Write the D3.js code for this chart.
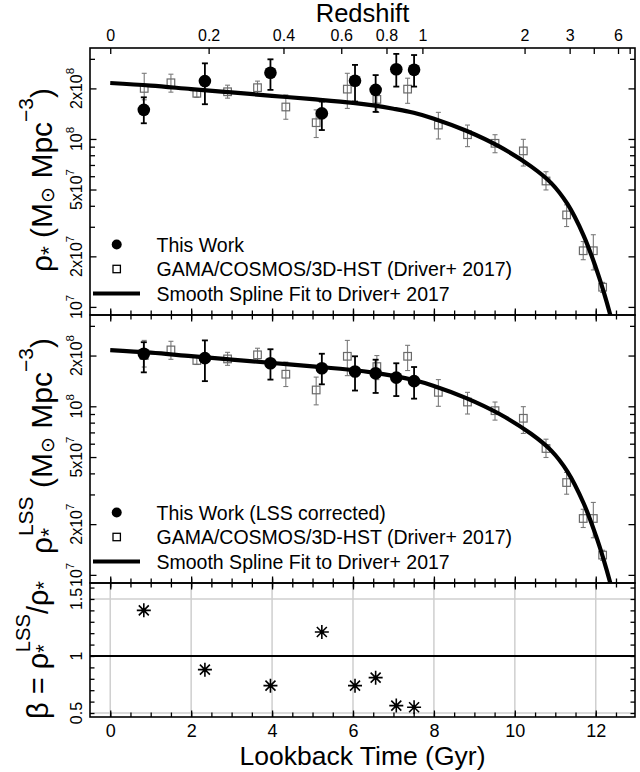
<!DOCTYPE html>
<html><head><meta charset="utf-8">
<script src="https://cdn.jsdelivr.net/npm/d3@7"></script>
<style>
body{margin:0;background:#fff}
svg{display:block}
text{font-family:"Liberation Sans",Arial,Helvetica,sans-serif;fill:#000}
</style>
</head><body>
<svg id="c" width="640" height="772"></svg>
<script>
// ---------------- DATA ----------------
// This Work (lookback time, Gyr)
const lookbackThisWork = [0.83, 2.34, 3.96, 5.23, 6.05, 6.56, 7.07, 7.51];
const rhoThisWork   = [1.49e8, 2.21e8, 2.48e8, 1.42e8, 2.22e8, 1.96e8, 2.60e8, 2.58e8];
const rhoThisWorkLo = [1.24e8, 1.61e8, 1.96e8, 1.13e8, 1.67e8, 1.45e8, 2.05e8, 2.05e8];
const rhoThisWorkHi = [1.77e8, 2.82e8, 2.98e8, 1.67e8, 2.76e8, 2.40e8, 3.21e8, 3.16e8];
// This Work, LSS corrected
const rhoLSS   = [2.05e8, 1.93e8, 1.80e8, 1.68e8, 1.61e8, 1.57e8, 1.48e8, 1.41e8];
const rhoLSSLo = [1.59e8, 1.41e8, 1.44e8, 1.35e8, 1.24e8, 1.20e8, 1.15e8, 1.11e8];
const rhoLSSHi = [2.40e8, 2.46e8, 2.18e8, 2.05e8, 1.98e8, 1.89e8, 1.80e8, 1.71e8];
// beta = rho_LSS / rho
const betaRatio = [1.40, 0.88, 0.74, 1.21, 0.74, 0.81, 0.565, 0.55];
// GAMA/COSMOS/3D-HST (Driver+ 2017)
const lookbackDriver = [0.84, 1.50, 2.14, 2.90, 3.64, 4.34, 5.09, 5.86, 6.59, 7.35, 8.11, 8.83, 9.51, 10.21, 10.77, 11.28, 11.69, 11.94, 12.17];
const rhoDriver   = [2.00e8, 2.16e8, 1.87e8, 1.91e8, 2.02e8, 1.55e8, 1.25e8, 1.98e8, 1.72e8, 1.98e8, 1.21e8, 1.06e8, 9.42e7, 8.49e7, 5.62e7, 3.53e7, 2.16e7, 2.16e7, 1.31e7];
const rhoDriverLo = [1.71e8, 1.90e8, 1.77e8, 1.75e8, 1.85e8, 1.31e8, 1.02e8, 1.52e8, 1.44e8, 1.63e8, 1.00e8, 9.00e7, 8.28e7, 6.90e7, 4.97e7, 3.01e7, 1.91e7, 1.66e7, 1.22e7];
const rhoDriverHi = [2.46e8, 2.43e8, 1.96e8, 2.09e8, 2.21e8, 1.83e8, 1.49e8, 2.46e8, 2.00e8, 2.30e8, 1.44e8, 1.21e8, 1.06e8, 9.95e7, 6.38e7, 4.05e7, 2.45e7, 2.69e7, 1.40e7];
// Smooth spline fit to Driver+ 2017
const splineLookback = [0, 1, 2, 3, 4, 5, 6, 6.5, 7, 7.5, 8, 8.8, 9.6, 10.4, 10.9, 11.3, 11.7, 12.0, 12.2, 12.4, 12.6];
const splineRho = [2.153e8, 2.080e8, 1.982e8, 1.892e8, 1.807e8, 1.726e8, 1.641e8, 1.585e8, 1.514e8, 1.432e8, 1.321e8, 1.119e8, 9.06e7, 6.87e7, 5.46e7, 4.10e7, 2.66e7, 1.72e7, 1.22e7, 8.24e6, 5.32e6];
// axes
const lookbackTicks = [0, 2, 4, 6, 8, 10, 12];
const redshiftTicks = [0, 0.2, 0.4, 0.6, 0.8, 1, 2, 3, 4, 6, 8];
const redshiftLabels = ["0", "0.2", "0.4", "0.6", "0.8", "1", "2", "3", "", "6", ""];
const rhoTickValues = [1e7, 2e7, 5e7, 1e8, 2e8];
const rhoTickMant = ["", "2x", "5x", "", "2x"];
const rhoTickExp = ["7", "7", "7", "8", "8"];
const rhoMinorTicks = [3e7, 4e7, 6e7, 7e7, 8e7, 9e7, 3e8];
const betaTickValues = [0.5, 1, 1.5];
const betaTickLabels = ["0.5", "1", "1.5"];

// ---------------- LAYOUT ----------------
const svg = d3.select("#c");
const L = 90, R = 635, T1 = 48, B1 = 315, B2 = 583, B3 = 717;
const x = d3.scaleLinear().domain([-0.5, 12.97]).range([L, R]);
const yDom = [8.95e6, 3.48e8];
const y1 = d3.scaleLog().domain(yDom).range([B1, T1]);
const y2 = d3.scaleLog().domain(yDom).range([B2, B1]);
const y3 = d3.scaleLinear().domain([0.465, 1.64]).range([B3, B2]);

// lookback time (Gyr) for flat LCDM H0=70, Om=0.3
function lookback(z) {
  const Om = 0.3, OL = 0.7, tH = 977.8 / 70;
  const f = zz => 1 / ((1 + zz) * Math.sqrt(Om * Math.pow(1 + zz, 3) + OL));
  const n = 400, h = z / n; let s = 0;
  for (let i = 0; i < n; i++) { const a = i * h; s += (f(a) + 4 * f(a + h / 2) + f(a + h)) * h / 6; }
  return tH * s;
}

const FONT = '"Liberation Sans",Arial,Helvetica,sans-serif';
function rich(textSel, parts, fs) {
  let cur = 0;
  parts.forEach(p => {
    const k = p.k || 1, s = (p.s || 0) * fs;
    const ts = textSel.append("tspan").text(p.t).attr("dy", s - cur);
    if (k !== 1) ts.attr("font-size", k * fs);
    if (p.dx) ts.attr("dx", p.dx);
    cur = s;
  });
}

// clip paths
const defs = svg.append("defs");
[[T1, B1, "c1"], [B1, B2, "c2"], [B2, B3, "c3"]].forEach(([t, b, id]) => {
  defs.append("clipPath").attr("id", id).append("rect")
    .attr("x", L).attr("y", t).attr("width", R - L).attr("height", b - t);
});

function styleAxis(g, w) {
  g.select(".domain").remove();
  g.selectAll(".tick line").attr("stroke", "#000").attr("stroke-width", w || 1.3);
}

// ---------------- RHO PANELS ----------------
function rhoPanel(y, top, bottom, clipId, circ, circLo, circHi, legendText) {
  const g = svg.append("g");
  // Driver squares + error bars
  const gd = g.append("g").attr("clip-path", `url(#${clipId})`);
  lookbackDriver.forEach((t, i) => {
    const cx = x(t);
    gd.append("line").attr("x1", cx).attr("x2", cx).attr("y1", y(rhoDriverLo[i])).attr("y2", y(rhoDriverHi[i]))
      .attr("stroke", "#7a7a7a").attr("stroke-width", 1.1);
    [rhoDriverLo[i], rhoDriverHi[i]].forEach(v => gd.append("line")
      .attr("x1", cx - 2.5).attr("x2", cx + 2.5).attr("y1", y(v)).attr("y2", y(v))
      .attr("stroke", "#7a7a7a").attr("stroke-width", 1.1));
    gd.append("rect").attr("x", cx - 3.8).attr("y", y(rhoDriver[i]) - 3.8).attr("width", 7.6).attr("height", 7.6)
      .attr("fill", "none").attr("stroke", "#6a6a6a").attr("stroke-width", 1.2);
  });
  // spline
  const line = d3.line().x((d, i) => x(splineLookback[i])).y(d => y(d)).curve(d3.curveCatmullRom.alpha(0.5));
  g.append("path").attr("clip-path", `url(#${clipId})`).attr("d", line(splineRho))
    .attr("fill", "none").attr("stroke", "#000").attr("stroke-width", 4.2);
  // this work
  lookbackThisWork.forEach((t, i) => {
    const cx = x(t);
    g.append("line").attr("x1", cx).attr("x2", cx).attr("y1", y(circLo[i])).attr("y2", y(circHi[i]))
      .attr("stroke", "#000").attr("stroke-width", 1.8);
    [circLo[i], circHi[i]].forEach(v => g.append("line")
      .attr("x1", cx - 3).attr("x2", cx + 3).attr("y1", y(v)).attr("y2", y(v))
      .attr("stroke", "#000").attr("stroke-width", 1.8));
    g.append("circle").attr("cx", cx).attr("cy", y(circ[i])).attr("r", 6.3).attr("fill", "#000");
  });
  // ticks
  const ax1 = g.append("g").attr("transform", `translate(${L},0)`)
    .call(d3.axisLeft(y).tickValues(rhoTickValues).tickSize(-6.5).tickFormat(""));
  styleAxis(ax1);
  const ax2 = g.append("g").attr("transform", `translate(${L},0)`)
    .call(d3.axisLeft(y).tickValues(rhoMinorTicks).tickSize(-5).tickFormat(""));
  styleAxis(ax2);
  const ax3 = g.append("g").attr("transform", `translate(${R},0)`)
    .call(d3.axisRight(y).tickValues(rhoTickValues).tickSize(-6.5).tickFormat(""));
  styleAxis(ax3);
  const ax4 = g.append("g").attr("transform", `translate(${R},0)`)
    .call(d3.axisRight(y).tickValues(rhoMinorTicks).tickSize(-5).tickFormat(""));
  styleAxis(ax4);
  // tick labels (rotated)
  rhoTickValues.forEach((v, i) => {
    const t = g.append("text").attr("transform", `translate(82,${y(v)}) rotate(-90)`)
      .attr("text-anchor", "middle").attr("font-size", 16);
    rich(t, [{ t: rhoTickMant[i] + "10" }, { t: rhoTickExp[i], k: 0.72, s: -0.48 }], 16);
  });
  // legend
  const lg = g.append("g").attr("font-size", 19.5);
  const r1 = bottom - 70.5, r2 = bottom - 46, r3 = bottom - 21.5;
  lg.append("circle").attr("cx", 116.7).attr("cy", r1).attr("r", 5).attr("fill", "#000");
  lg.append("rect").attr("x", 113).attr("y", r2 - 3.7).attr("width", 7.4).attr("height", 7.4)
    .attr("fill", "none").attr("stroke", "#000").attr("stroke-width", 1.3);
  lg.append("line").attr("x1", 93).attr("x2", 140).attr("y1", r3).attr("y2", r3)
    .attr("stroke", "#000").attr("stroke-width", 4.2);
  lg.append("text").attr("x", 156.5).attr("y", r1).attr("dy", "0.36em").text(legendText);
  lg.append("text").attr("x", 156.5).attr("y", r2).attr("dy", "0.36em").text("GAMA/COSMOS/3D-HST (Driver+ 2017)");
  lg.append("text").attr("x", 156.5).attr("y", r3).attr("dy", "0.36em").text("Smooth Spline Fit to Driver+ 2017");
  return g;
}

rhoPanel(y1, T1, B1, "c1", rhoThisWork, rhoThisWorkLo, rhoThisWorkHi, "This Work");
rhoPanel(y2, B1, B2, "c2", rhoLSS, rhoLSSLo, rhoLSSHi, "This Work (LSS corrected)");

// ---------------- BETA PANEL ----------------
const g3 = svg.append("g");
g3.append("g").selectAll("line").data(lookbackTicks).join("line")
  .attr("x1", d => x(d)).attr("x2", d => x(d)).attr("y1", B2).attr("y2", B3)
  .attr("stroke", "#cfcfcf").attr("stroke-width", 1.5);
g3.append("g").selectAll("line").data([0.5, 1.5]).join("line")
  .attr("x1", L).attr("x2", R).attr("y1", d => y3(d)).attr("y2", d => y3(d))
  .attr("stroke", "#cfcfcf").attr("stroke-width", 1.5);
g3.append("line").attr("x1", L).attr("x2", R).attr("y1", y3(1)).attr("y2", y3(1))
  .attr("stroke", "#000").attr("stroke-width", 2);
const star = "M-7,0H7M0,-7V7M-5,-5L5,5M-5,5L5,-5";
lookbackThisWork.forEach((t, i) => {
  g3.append("path").attr("transform", `translate(${x(t)},${y3(betaRatio[i])})`).attr("d", star)
    .attr("stroke", "#000").attr("stroke-width", 1.6).attr("fill", "none");
  g3.append("circle").attr("cx", x(t)).attr("cy", y3(betaRatio[i])).attr("r", 2).attr("fill", "#000");
});
const betaMinor = d3.range(5, 17).map(d => d / 10);
[["L", L], ["R", R]].forEach(([side, px]) => {
  const a = side === "L" ? d3.axisLeft(y3) : d3.axisRight(y3);
  const ga = g3.append("g").attr("transform", `translate(${px},0)`).call(a.tickValues(betaMinor).tickSize(-4.5).tickFormat(""));
  styleAxis(ga);
});
betaTickValues.forEach((v, i) => {
  g3.append("text").attr("transform", `translate(82,${y3(v)}) rotate(-90)`)
    .attr("text-anchor", "middle").attr("font-size", 16).text(betaTickLabels[i]);
});

// ---------------- X AXES (lookback) ----------------
const halfTicks = d3.range(0, 26).map(d => d / 2);
function xTicks(yPos, dir) {
  const mk = dir === "up" ? d3.axisBottom : d3.axisTop;
  const a1 = svg.append("g").attr("transform", `translate(0,${yPos})`)
    .call(mk(x).tickValues(halfTicks).tickSize(-4.5).tickFormat(""));
  styleAxis(a1);
  const a2 = svg.append("g").attr("transform", `translate(0,${yPos})`)
    .call(mk(x).tickValues(lookbackTicks).tickSize(-6.5).tickFormat(""));
  styleAxis(a2);
}
xTicks(B1, "up"); xTicks(B1, "down");
xTicks(B2, "up"); xTicks(B2, "down");
xTicks(B3, "up");

// bottom labels
const bx = svg.append("g").attr("transform", `translate(0,${B3})`)
  .call(d3.axisBottom(x).tickValues(lookbackTicks).tickSize(0).tickPadding(7.5));
bx.select(".domain").remove();
bx.selectAll("text").attr("font-size", 18).attr("font-family", FONT).attr("fill", "#000");

// top redshift axis
const zPos = redshiftTicks.map(lookback);
const tx = svg.append("g").attr("transform", `translate(0,${T1})`)
  .call(d3.axisTop(x).tickValues(zPos).tickSize(-6).tickPadding(7)
    .tickFormat((d, i) => redshiftLabels[i]));
styleAxis(tx);
tx.selectAll("text").attr("font-size", 16).attr("font-family", FONT).attr("fill", "#000");

// frames
[[T1, B1], [B1, B2], [B2, B3]].forEach(([t, b]) => {
  svg.append("rect").attr("x", L).attr("y", t).attr("width", R - L).attr("height", b - t)
    .attr("fill", "none").attr("stroke", "#000").attr("stroke-width", 1.6);
});

// ---------------- TITLES ----------------
svg.append("text").attr("x", (L + R) / 2).attr("y", 22).attr("text-anchor", "middle")
  .attr("font-size", 25.5).text("Redshift");
svg.append("text").attr("x", (L + R) / 2).attr("y", 765).attr("text-anchor", "middle")
  .attr("font-size", 26.5).text("Lookback Time (Gyr)");

const FS = 30;
const t1 = svg.append("text").attr("transform", `translate(52,180) rotate(-90)`)
  .attr("text-anchor", "middle").attr("font-size", FS);
rich(t1, [{ t: "ρ" }, { t: "*", k: 0.75, s: 0.12 }, { t: " (M" }, { t: "⊙", k: 0.62, s: 0.06 },
  { t: " Mpc" }, { t: "−3", k: 0.7, s: -0.62 }, { t: ")" }], FS);

const t2 = svg.append("text").attr("transform", `translate(52,446) rotate(-90)`)
  .attr("text-anchor", "middle").attr("font-size", FS);
rich(t2, [{ t: "ρ" }, { t: "*", k: 0.75, s: 0.12 }, { t: "LSS", k: 0.7, s: -0.62, dx: -8 }, { t: " (M" },
  { t: "⊙", k: 0.62, s: 0.06 }, { t: " Mpc" }, { t: "−3", k: 0.7, s: -0.62 }, { t: ")" }], FS);

const t3 = svg.append("text").attr("transform", `translate(48,${(B2 + B3) / 2}) rotate(-90)`)
  .attr("text-anchor", "middle").attr("font-size", 29);
rich(t3, [{ t: "β = ρ" }, { t: "*", k: 0.75, s: 0.12 }, { t: "LSS", k: 0.7, s: -0.62, dx: -8 },
  { t: "/ρ" }, { t: "*", k: 0.75, s: 0.12 }], 29);
</script>
</body></html>
